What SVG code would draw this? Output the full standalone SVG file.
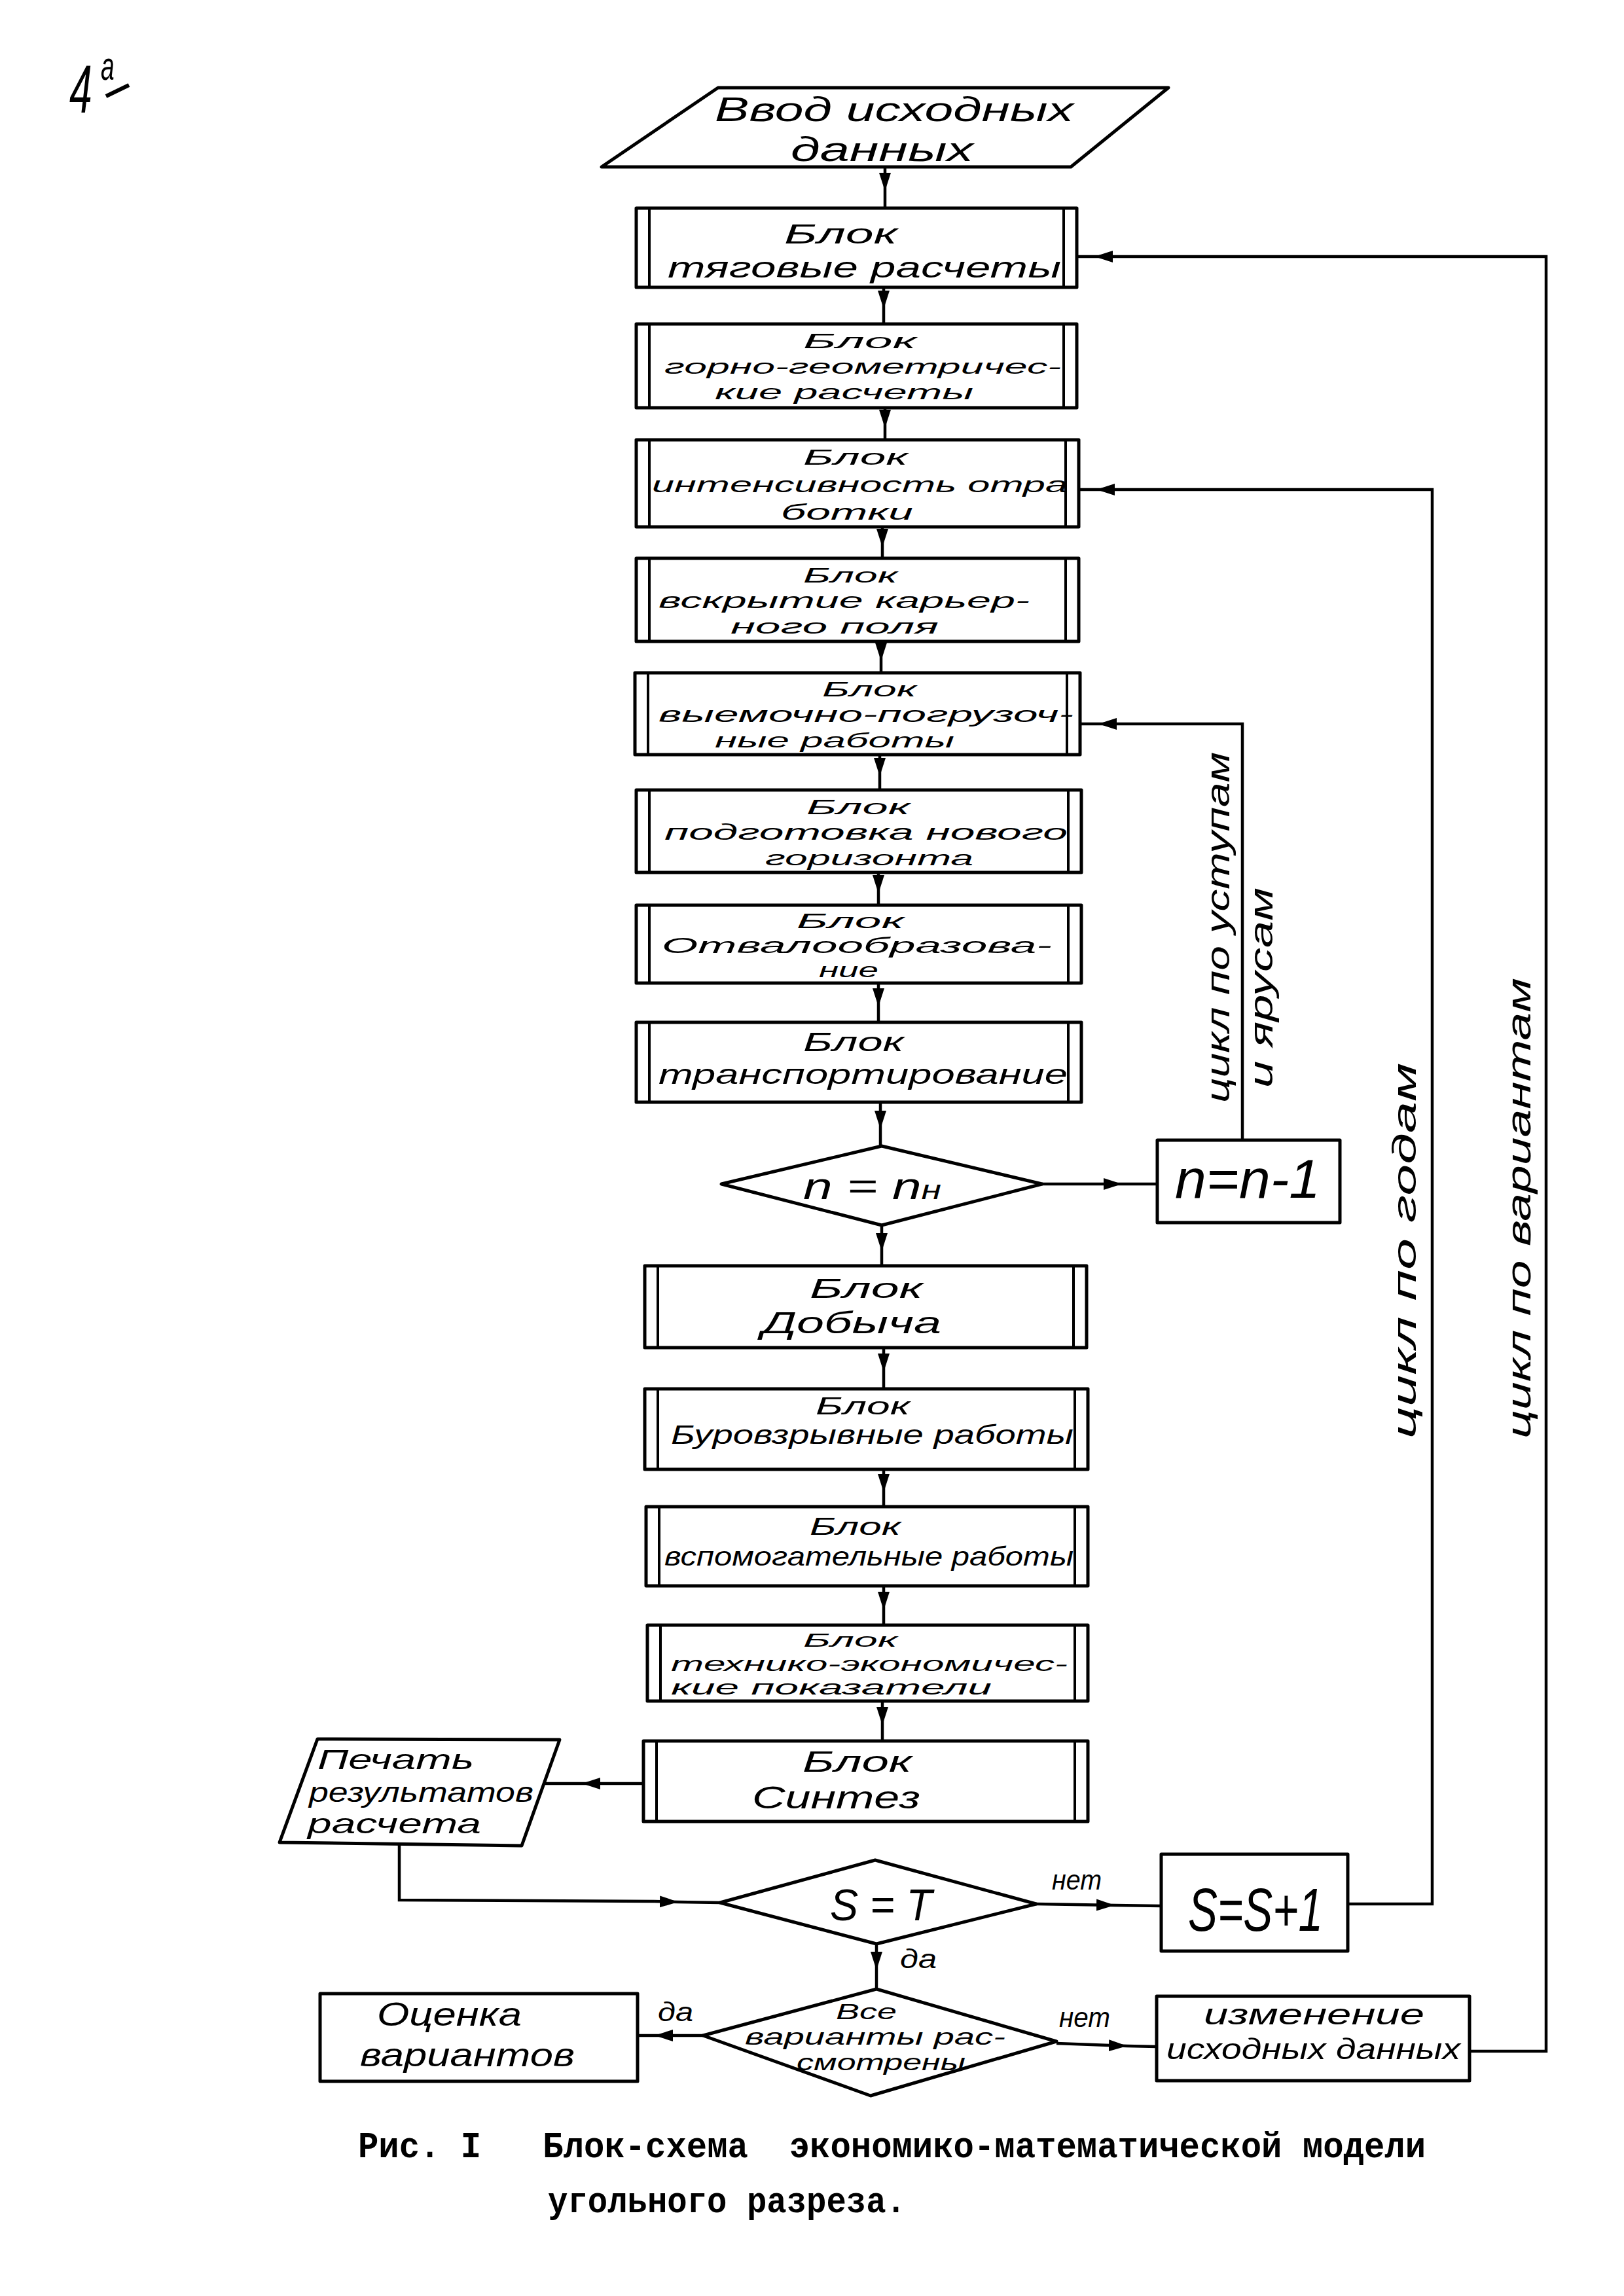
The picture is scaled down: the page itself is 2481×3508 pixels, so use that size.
<svg xmlns="http://www.w3.org/2000/svg" width="2481" height="3508" viewBox="0 0 2481 3508">
<style>
.sh{fill:none;stroke:#000;stroke-width:5;stroke-linejoin:round}
.bar{stroke:#000;stroke-width:4}
.cn{fill:none;stroke:#000;stroke-width:4.5}
.t{font-family:"Liberation Sans","DejaVu Sans",sans-serif;font-style:italic;fill:#000}
.cap{font-family:"Liberation Mono","DejaVu Sans Mono",monospace;font-weight:bold;fill:#000}
</style>
<defs>
<marker id="ah" markerUnits="userSpaceOnUse" markerWidth="28" markerHeight="20" viewBox="0 0 28 20" refX="28" refY="10" orient="auto">
<path d="M0,1 L28,10 L0,19 z" fill="#000"/>
</marker>
</defs>
<rect width="2481" height="3508" fill="#fff"/>

<g id="page-number">
<text class="t" font-size="104" transform="translate(106,172) scale(0.6,1)">4<tspan x="80" y="-50" font-size="62">а</tspan></text>
<line x1="162" y1="147" x2="197" y2="130" stroke="#000" stroke-width="6"/>
</g>

<g id="connectors">
<path class="cn" d="M1352,255 L1352,292 L1352,318" marker-mid="url(#ah)"/>
<path class="cn" d="M1350,439 L1350,472 L1350,495" marker-mid="url(#ah)"/>
<path class="cn" d="M1352,623 L1352,654 L1352,672" marker-mid="url(#ah)"/>
<path class="cn" d="M1348,805 L1348,836 L1348,853" marker-mid="url(#ah)"/>
<path class="cn" d="M1346,980 L1346,1010 L1346,1028" marker-mid="url(#ah)"/>
<path class="cn" d="M1344,1153 L1344,1186 L1344,1207" marker-mid="url(#ah)"/>
<path class="cn" d="M1342,1333 L1342,1365 L1342,1383" marker-mid="url(#ah)"/>
<path class="cn" d="M1342,1502 L1342,1538 L1342,1562" marker-mid="url(#ah)"/>
<path class="cn" d="M1345,1684 L1345,1725 L1345,1751" marker-mid="url(#ah)"/>
<path class="cn" d="M1347,1872 L1347,1912 L1347,1934" marker-mid="url(#ah)"/>
<path class="cn" d="M1592,1809 L1714,1809 L1768,1809" marker-mid="url(#ah)"/>
<path class="cn" d="M1350,2059 L1350,2096 L1350,2122" marker-mid="url(#ah)"/>
<path class="cn" d="M1350,2245 L1350,2280 L1350,2302" marker-mid="url(#ah)"/>
<path class="cn" d="M1350,2423 L1350,2460 L1350,2483" marker-mid="url(#ah)"/>
<path class="cn" d="M1348,2599 L1348,2636 L1348,2660" marker-mid="url(#ah)"/>
<path class="cn" d="M983,2725 L889,2725 L831,2725" marker-mid="url(#ah)"/>
<path class="cn" d="M610,2818 L610,2903 L1000,2905"/>
<path class="cn" d="M1000,2905 L1036,2906 L1100,2907" marker-mid="url(#ah)"/>
<path class="cn" d="M1583,2909 L1703,2911 L1774,2912" marker-mid="url(#ah)"/>
<path class="cn" d="M1339,2970 L1339,3010 L1339,3039" marker-mid="url(#ah)"/>
<path class="cn" d="M1074,3110 L1000,3110 L974,3110" marker-mid="url(#ah)"/>
<path class="cn" d="M1614,3122 L1722,3126 L1767,3127" marker-mid="url(#ah)"/>
<path class="cn" d="M2245,3134 L2362,3134 L2362,392 L1740,392"/>
<path class="cn" d="M1740,392 L1672,392 L1645,392" marker-mid="url(#ah)"/>
<path class="cn" d="M2059,2909 L2188,2909 L2188,748 L1740,748"/>
<path class="cn" d="M1740,748 L1675,748 L1648,748" marker-mid="url(#ah)"/>
<path class="cn" d="M1898,1742 L1898,1106 L1740,1106"/>
<path class="cn" d="M1740,1106 L1678,1106 L1650,1106" marker-mid="url(#ah)"/>
<text class="t" x="1607" y="2887" font-size="42" textLength="76" lengthAdjust="spacingAndGlyphs">нет</text>
<text class="t" x="1375" y="3007" font-size="40" textLength="56" lengthAdjust="spacingAndGlyphs">да</text>
<text class="t" x="1005" y="3088" font-size="40" textLength="54" lengthAdjust="spacingAndGlyphs">да</text>
<text class="t" x="1618" y="3097" font-size="42" textLength="78" lengthAdjust="spacingAndGlyphs">нет</text>
<text class="t" font-size="50" transform="translate(1878,1685) rotate(-90)" textLength="536" lengthAdjust="spacingAndGlyphs">цикл по уступам</text>
<text class="t" font-size="50" transform="translate(1944,1662) rotate(-90)" textLength="306" lengthAdjust="spacingAndGlyphs">и ярусам</text>
<text class="t" font-size="50" transform="translate(2163,2198) rotate(-90)" textLength="574" lengthAdjust="spacingAndGlyphs">цикл по годам</text>
<text class="t" font-size="52" transform="translate(2338,2198) rotate(-90)" textLength="704" lengthAdjust="spacingAndGlyphs">цикл по вариантам</text>
</g>

<g id="input">
<polygon class="sh" points="1097,134 1785,134 1636,255 919,255"/>
<text class="t" x="1092" y="185" font-size="52" textLength="548" lengthAdjust="spacingAndGlyphs">Ввод исходных</text>
<text class="t" x="1208" y="246" font-size="52" textLength="279" lengthAdjust="spacingAndGlyphs">данных</text>
</g>

<g id="block-traction">
<rect class="sh" x="972" y="318" width="673" height="121"/>
<line class="bar" x1="992" y1="318" x2="992" y2="439"/><line class="bar" x1="1625" y1="318" x2="1625" y2="439"/>
<text class="t" x="1198" y="372" font-size="42" textLength="173" lengthAdjust="spacingAndGlyphs">Блок</text>
<text class="t" x="1020" y="424" font-size="44" textLength="601" lengthAdjust="spacingAndGlyphs">тяговые расчеты</text>
</g>

<g id="block-geometry">
<rect class="sh" x="972" y="495" width="673" height="128"/>
<line class="bar" x1="992" y1="495" x2="992" y2="623"/><line class="bar" x1="1625" y1="495" x2="1625" y2="623"/>
<text class="t" x="1227" y="532" font-size="32" textLength="173" lengthAdjust="spacingAndGlyphs">Блок</text>
<text class="t" x="1015" y="571" font-size="32" textLength="606" lengthAdjust="spacingAndGlyphs">горно-геометричес-</text>
<text class="t" x="1092" y="610" font-size="32" textLength="395" lengthAdjust="spacingAndGlyphs">кие расчеты</text>
</g>

<g id="block-intensity">
<rect class="sh" x="972" y="672" width="676" height="133"/>
<line class="bar" x1="992" y1="672" x2="992" y2="805"/><line class="bar" x1="1628" y1="672" x2="1628" y2="805"/>
<text class="t" x="1227" y="710" font-size="33" textLength="160" lengthAdjust="spacingAndGlyphs">Блок</text>
<text class="t" x="996" y="752" font-size="34" textLength="635" lengthAdjust="spacingAndGlyphs">интенсивность отра</text>
<text class="t" x="1193" y="794" font-size="33" textLength="202" lengthAdjust="spacingAndGlyphs">ботки</text>
</g>

<g id="block-opening">
<rect class="sh" x="972" y="853" width="676" height="127"/>
<line class="bar" x1="992" y1="853" x2="992" y2="980"/><line class="bar" x1="1628" y1="853" x2="1628" y2="980"/>
<text class="t" x="1227" y="890" font-size="32" textLength="144" lengthAdjust="spacingAndGlyphs">Блок</text>
<text class="t" x="1006" y="929" font-size="33" textLength="567" lengthAdjust="spacingAndGlyphs">вскрытие карьер-</text>
<text class="t" x="1116" y="968" font-size="32" textLength="318" lengthAdjust="spacingAndGlyphs">ного поля</text>
</g>

<g id="block-excavation">
<rect class="sh" x="970" y="1028" width="680" height="125"/>
<line class="bar" x1="990" y1="1028" x2="990" y2="1153"/><line class="bar" x1="1630" y1="1028" x2="1630" y2="1153"/>
<text class="t" x="1256" y="1064" font-size="32" textLength="144" lengthAdjust="spacingAndGlyphs">Блок</text>
<text class="t" x="1006" y="1103" font-size="33" textLength="634" lengthAdjust="spacingAndGlyphs">выемочно-погрузоч-</text>
<text class="t" x="1092" y="1142" font-size="32" textLength="366" lengthAdjust="spacingAndGlyphs">ные работы</text>
</g>

<g id="block-new-horizon">
<rect class="sh" x="972" y="1207" width="680" height="126"/>
<line class="bar" x1="992" y1="1207" x2="992" y2="1333"/><line class="bar" x1="1632" y1="1207" x2="1632" y2="1333"/>
<text class="t" x="1232" y="1244" font-size="32" textLength="158" lengthAdjust="spacingAndGlyphs">Блок</text>
<text class="t" x="1015" y="1283" font-size="33" textLength="616" lengthAdjust="spacingAndGlyphs">подготовка нового</text>
<text class="t" x="1169" y="1322" font-size="32" textLength="318" lengthAdjust="spacingAndGlyphs">горизонта</text>
</g>

<g id="block-dumping">
<rect class="sh" x="972" y="1383" width="680" height="119"/>
<line class="bar" x1="992" y1="1383" x2="992" y2="1502"/><line class="bar" x1="1632" y1="1383" x2="1632" y2="1502"/>
<text class="t" x="1217" y="1418" font-size="31" textLength="164" lengthAdjust="spacingAndGlyphs">Блок</text>
<text class="t" x="1011" y="1456" font-size="33" textLength="596" lengthAdjust="spacingAndGlyphs">Отвалообразова-</text>
<text class="t" x="1251" y="1493" font-size="31" textLength="91" lengthAdjust="spacingAndGlyphs">ние</text>
</g>

<g id="block-transport">
<rect class="sh" x="972" y="1562" width="680" height="122"/>
<line class="bar" x1="992" y1="1562" x2="992" y2="1684"/><line class="bar" x1="1632" y1="1562" x2="1632" y2="1684"/>
<text class="t" x="1227" y="1606" font-size="40" textLength="154" lengthAdjust="spacingAndGlyphs">Блок</text>
<text class="t" x="1006" y="1656" font-size="42" textLength="625" lengthAdjust="spacingAndGlyphs">транспортирование</text>
</g>

<g id="decision-n">
<polygon class="sh" points="1347,1751 1592,1809 1347,1872 1102,1809"/>
<text class="t" x="1227" y="1832" font-size="58" textLength="211" lengthAdjust="spacingAndGlyphs">n = n<tspan font-size="40">н</tspan></text>
</g>

<g id="n-decrement">
<rect class="sh" x="1768" y="1742" width="279" height="126"/>
<text class="t" x="1795" y="1830" font-size="84" textLength="222" lengthAdjust="spacingAndGlyphs">n=n-1</text>
</g>

<g id="block-mining">
<rect class="sh" x="985" y="1934" width="675" height="125"/>
<line class="bar" x1="1005" y1="1934" x2="1005" y2="2059"/><line class="bar" x1="1640" y1="1934" x2="1640" y2="2059"/>
<text class="t" x="1237" y="1983" font-size="42" textLength="173" lengthAdjust="spacingAndGlyphs">Блок</text>
<text class="t" x="1164" y="2037" font-size="46" textLength="274" lengthAdjust="spacingAndGlyphs">Добыча</text>
</g>

<g id="block-blasting">
<rect class="sh" x="985" y="2122" width="677" height="123"/>
<line class="bar" x1="1005" y1="2122" x2="1005" y2="2245"/><line class="bar" x1="1642" y1="2122" x2="1642" y2="2245"/>
<text class="t" x="1246" y="2161" font-size="36" textLength="144" lengthAdjust="spacingAndGlyphs">Блок</text>
<text class="t" x="1025" y="2206" font-size="40" textLength="615" lengthAdjust="spacingAndGlyphs">Буровзрывные работы</text>
</g>

<g id="block-auxiliary">
<rect class="sh" x="987" y="2302" width="675" height="121"/>
<line class="bar" x1="1007" y1="2302" x2="1007" y2="2423"/><line class="bar" x1="1642" y1="2302" x2="1642" y2="2423"/>
<text class="t" x="1237" y="2345" font-size="36" textLength="139" lengthAdjust="spacingAndGlyphs">Блок</text>
<text class="t" x="1015" y="2392" font-size="40" textLength="625" lengthAdjust="spacingAndGlyphs">вспомогательные работы</text>
</g>

<g id="block-indicators">
<rect class="sh" x="989" y="2483" width="673" height="116"/>
<line class="bar" x1="1009" y1="2483" x2="1009" y2="2599"/><line class="bar" x1="1642" y1="2483" x2="1642" y2="2599"/>
<text class="t" x="1227" y="2516" font-size="30" textLength="144" lengthAdjust="spacingAndGlyphs">Блок</text>
<text class="t" x="1025" y="2553" font-size="32" textLength="606" lengthAdjust="spacingAndGlyphs">технико-экономичес-</text>
<text class="t" x="1025" y="2589" font-size="32" textLength="490" lengthAdjust="spacingAndGlyphs">кие показатели</text>
</g>

<g id="block-synthesis">
<rect class="sh" x="983" y="2660" width="679" height="123"/>
<line class="bar" x1="1003" y1="2660" x2="1003" y2="2783"/><line class="bar" x1="1642" y1="2660" x2="1642" y2="2783"/>
<text class="t" x="1226" y="2707" font-size="44" textLength="167" lengthAdjust="spacingAndGlyphs">Блок</text>
<text class="t" x="1149" y="2763" font-size="48" textLength="257" lengthAdjust="spacingAndGlyphs">Синтез</text>
</g>

<g id="print-results">
<polygon class="sh" points="485,2657 855,2658 797,2820 427,2815"/>
<text class="t" x="485" y="2703" font-size="42" textLength="239" lengthAdjust="spacingAndGlyphs">Печать</text>
<text class="t" x="472" y="2753" font-size="42" textLength="343" lengthAdjust="spacingAndGlyphs">результатов</text>
<text class="t" x="470" y="2801" font-size="42" textLength="265" lengthAdjust="spacingAndGlyphs">расчета</text>
</g>

<g id="decision-s">
<polygon class="sh" points="1337,2842 1583,2909 1339,2970 1100,2907"/>
<text class="t" x="1268" y="2934" font-size="68" textLength="156" lengthAdjust="spacingAndGlyphs">S = T</text>
</g>

<g id="s-increment">
<rect class="sh" x="1774" y="2833" width="285" height="148"/>
<text class="t" x="1815" y="2950" font-size="92" textLength="206" lengthAdjust="spacingAndGlyphs">S=S+1</text>
</g>

<g id="decision-all">
<polygon class="sh" points="1339,3039 1614,3119 1330,3202 1074,3110"/>
<text class="t" x="1277" y="3085" font-size="34" textLength="93" lengthAdjust="spacingAndGlyphs">Все</text>
<text class="t" x="1138" y="3124" font-size="35" textLength="398" lengthAdjust="spacingAndGlyphs">варианты рас-</text>
<text class="t" x="1217" y="3163" font-size="35" textLength="258" lengthAdjust="spacingAndGlyphs">смотрены</text>
</g>

<g id="evaluation">
<rect class="sh" x="489" y="3046" width="485" height="134"/>
<text class="t" x="576" y="3095" font-size="50" textLength="221" lengthAdjust="spacingAndGlyphs">Оценка</text>
<text class="t" x="550" y="3157" font-size="50" textLength="328" lengthAdjust="spacingAndGlyphs">вариантов</text>
</g>

<g id="change-input">
<rect class="sh" x="1767" y="3050" width="478" height="129"/>
<text class="t" x="1839" y="3093" font-size="44" textLength="337" lengthAdjust="spacingAndGlyphs">изменение</text>
<text class="t" x="1782" y="3146" font-size="44" textLength="449" lengthAdjust="spacingAndGlyphs">исходных данных</text>
</g>

<g id="caption">
<text class="cap" x="547" y="3296" font-size="56" textLength="1631" lengthAdjust="spacingAndGlyphs" xml:space="preserve">Рис. I   Блок-схема  экономико-математической модели</text>
<text class="cap" x="837" y="3380" font-size="56" textLength="547" lengthAdjust="spacingAndGlyphs">угольного разреза.</text>
</g>
</svg>
